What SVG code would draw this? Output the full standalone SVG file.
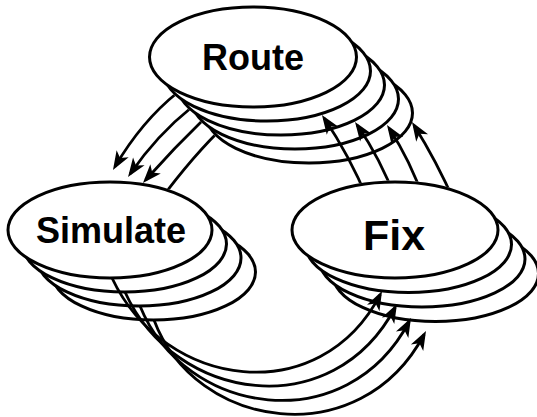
<svg xmlns="http://www.w3.org/2000/svg" width="537" height="417" viewBox="0 0 537 417">
<style>
.n{fill:#fff;stroke:#000;stroke-width:3}
.t{font-family:"Liberation Sans",Arial,sans-serif;font-weight:bold;text-anchor:middle;fill:#000}
.c{fill:none;stroke:#000;stroke-width:2.8;marker-end:url(#ah)}
.m{fill:#000;stroke:#000;stroke-width:3}
</style>
<defs>
<marker id="ah" markerUnits="userSpaceOnUse" markerWidth="24" markerHeight="18" viewBox="-18 -9 24 18" refX="0" refY="0" orient="auto" overflow="visible">
<path d="M4,0 L-15,-7 L-10,0 L-15,7 Z" fill="#000"/>
</marker>
<mask id="mRS" maskUnits="userSpaceOnUse" x="0" y="0" width="537" height="417">
<rect x="0" y="0" width="537" height="417" fill="#fff"/>
<ellipse class="m" cx="309" cy="113" rx="103.5" ry="50"/>
<ellipse class="m" cx="295" cy="99" rx="103.5" ry="50"/>
<ellipse class="m" cx="281" cy="85" rx="103.5" ry="50"/>
<ellipse class="m" cx="267" cy="71" rx="103.5" ry="50"/>
<ellipse class="m" cx="253" cy="57" rx="103.5" ry="50"/>
<ellipse class="m" cx="153.5" cy="272" rx="102" ry="48"/>
<ellipse class="m" cx="139" cy="258" rx="102" ry="48"/>
<ellipse class="m" cx="124.5" cy="244" rx="102" ry="48"/>
<ellipse class="m" cx="110" cy="230" rx="102" ry="48"/>
</mask>
<mask id="mFR" maskUnits="userSpaceOnUse" x="0" y="0" width="537" height="417">
<rect x="0" y="0" width="537" height="417" fill="#fff"/>
<ellipse class="m" cx="435.5" cy="273.5" rx="103" ry="48"/>
<ellipse class="m" cx="422" cy="259" rx="103" ry="48"/>
<ellipse class="m" cx="408.5" cy="244.5" rx="103" ry="48"/>
<ellipse class="m" cx="395" cy="230" rx="103" ry="48"/>
</mask>
</defs>
<rect x="0" y="0" width="537" height="417" fill="#fff"/>
<g id="route">
<ellipse class="n" cx="309" cy="113" rx="103.5" ry="50"/>
<ellipse class="n" cx="295" cy="99" rx="103.5" ry="50"/>
<ellipse class="n" cx="281" cy="85" rx="103.5" ry="50"/>
<ellipse class="n" cx="267" cy="71" rx="103.5" ry="50"/>
<ellipse class="n" cx="253" cy="57" rx="103.5" ry="50"/>
<text class="t" x="253" y="70" font-size="36">Route</text>
</g>
<g id="simulate">
<ellipse class="n" cx="153.5" cy="272" rx="102" ry="48"/>
<ellipse class="n" cx="139" cy="258" rx="102" ry="48"/>
<ellipse class="n" cx="124.5" cy="244" rx="102" ry="48"/>
<ellipse class="n" cx="110" cy="230" rx="102" ry="48"/>
<text class="t" x="111" y="243" font-size="36">Simulate</text>
</g>
<g id="fix">
<ellipse class="n" cx="435.5" cy="273.5" rx="103" ry="48"/>
<ellipse class="n" cx="422" cy="259" rx="103" ry="48"/>
<ellipse class="n" cx="408.5" cy="244.5" rx="103" ry="48"/>
<ellipse class="n" cx="395" cy="230" rx="103" ry="48"/>
<text class="t" x="394" y="250" font-size="43">Fix</text>
</g>
<g id="connectors">
<g mask="url(#mRS)">
<path class="c" d="M188.7,83.7 L177,93 Q142,121 115,166.6"/>
<path class="c" d="M203,98 L192,107 Q157,135 130.3,173.7"/>
<path class="c" d="M216,108 L205,118 Q174,148 145.6,180"/>
<path class="c" d="M229,122 L218,132 Q185,165 150,214"/>
</g>
<g mask="url(#mFR)">
<path class="c" d="M368,200 Q349,155 324.2,118.3"/>
<path class="c" d="M396,200 Q380,158 357.3,125.3"/>
<path class="c" d="M424,200 Q410,160 389.2,128.4"/>
<path class="c" d="M455,203 Q436,160 414.1,125.4"/>
</g>
<g>
<path class="c" d="M112,278 C165,390 320,410 380.2,294.6"/>
<path class="c" d="M125,292 C175,403 333,425 395.1,307.5"/>
<path class="c" d="M140,306 C185,417 347,440 409.1,321.5"/>
<path class="c" d="M154,320 C195,430 360,455 424.1,334.5"/>
</g>
</g>
</svg>
